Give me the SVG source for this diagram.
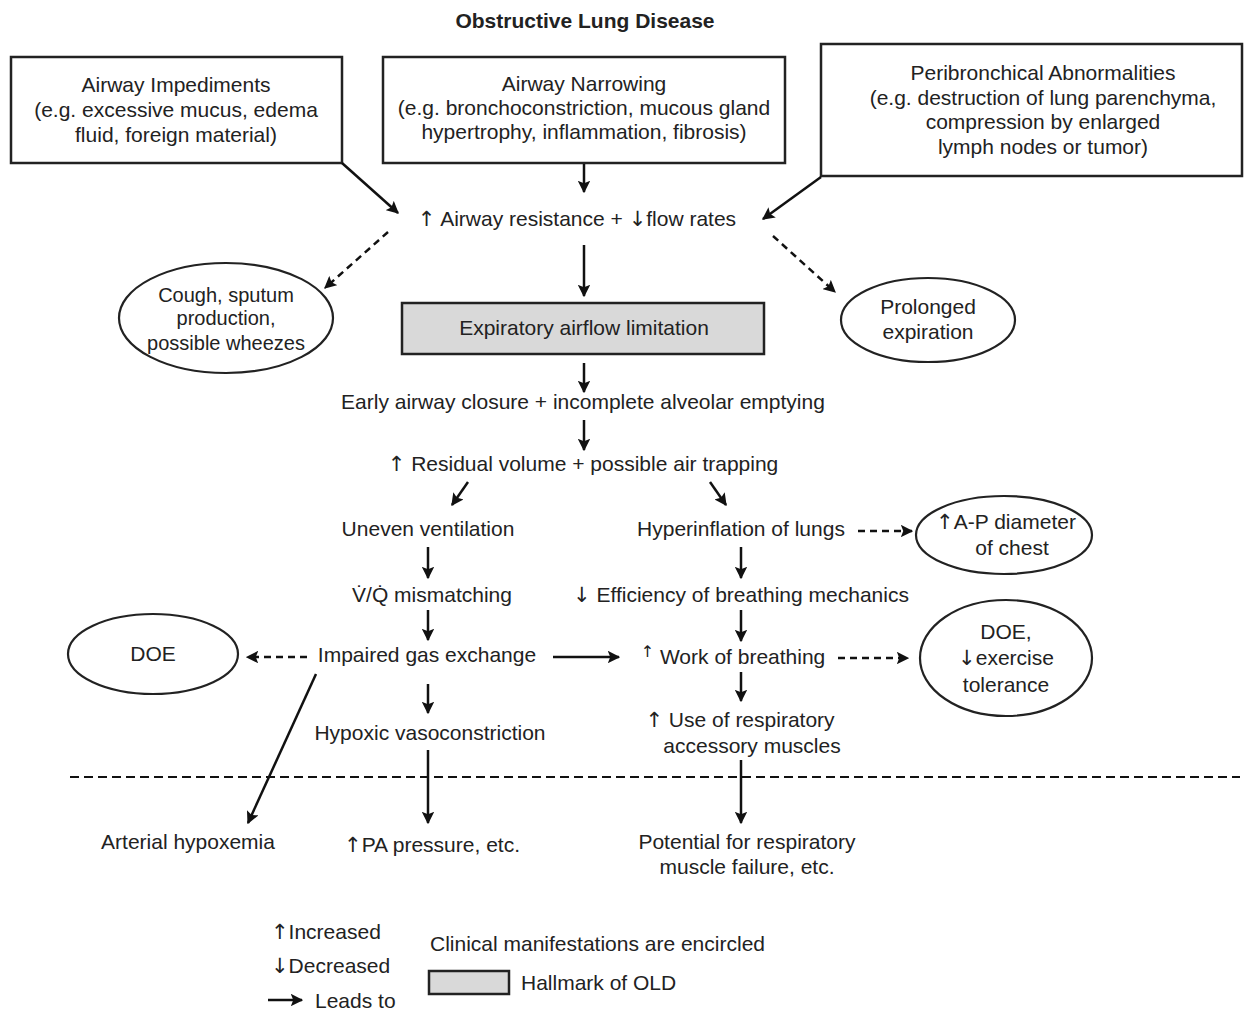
<svg xmlns="http://www.w3.org/2000/svg" width="1249" height="1011" viewBox="0 0 1249 1011">
<defs>
<style>
text{font-family:"Liberation Sans",Arial,sans-serif;font-size:21px;fill:#222;text-anchor:middle}
.title{font-weight:bold;font-size:21px}
.l{text-anchor:start}
.s{font-size:20px}
.ar{font-family:"DejaVu Sans",sans-serif;font-weight:normal}
.box{fill:#fff;stroke:#222;stroke-width:2.5}
.hall{fill:#d9d9d9;stroke:#222;stroke-width:2.5}
.ell{fill:#fff;stroke:#222;stroke-width:2.2}
.c{fill:none;stroke:#111;stroke-width:2.5}
.d{fill:none;stroke:#111;stroke-width:2.5;stroke-dasharray:7 5}
.sep{fill:none;stroke:#111;stroke-width:2;stroke-dasharray:9 5}
</style>
<marker id="ah" viewBox="0 0 10 10" refX="9" refY="5" markerWidth="5" markerHeight="5" orient="auto" markerUnits="strokeWidth">
<path d="M0,0 L10,5 L0,10 L2,5 z" fill="#111"/>
</marker>
</defs>
<rect width="1249" height="1011" fill="#fff"/>
<text class="title" x="585" y="28">Obstructive Lung Disease</text>

<g id="impediments">
<rect class="box" x="11" y="57" width="331" height="106"/>
<text x="176" y="92">Airway Impediments</text>
<text x="176" y="117">(e.g. excessive mucus, edema</text>
<text x="176" y="142">fluid, foreign material)</text>
</g>
<g id="narrowing">
<rect class="box" x="383" y="57" width="402" height="106"/>
<text x="584" y="91">Airway Narrowing</text>
<text x="584" y="115">(e.g. bronchoconstriction, mucous gland</text>
<text x="584" y="139">hypertrophy, inflammation, fibrosis)</text>
</g>
<g id="peribronchial">
<rect class="box" x="821" y="44" width="421" height="132"/>
<text x="1043" y="80">Peribronchical Abnormalities</text>
<text x="1043" y="105">(e.g. destruction of lung parenchyma,</text>
<text x="1043" y="129">compression by enlarged</text>
<text x="1043" y="154">lymph nodes or tumor)</text>
</g>
<g id="resistance"><text x="577" y="226"><tspan class="ar">↑</tspan> Airway resistance + <tspan class="ar">↓</tspan>flow rates</text></g>
<g id="cough">
<ellipse class="ell" cx="226" cy="318" rx="107" ry="55"/>
<text class="s" x="226" y="302">Cough, sputum</text>
<text class="s" x="226" y="325">production,</text>
<text class="s" x="226" y="350">possible wheezes</text>
</g>
<g id="prolonged">
<ellipse class="ell" cx="928" cy="320" rx="87" ry="42"/>
<text x="928" y="314">Prolonged</text>
<text x="928" y="339">expiration</text>
</g>
<g id="limitation">
<rect class="hall" x="402" y="303" width="362" height="51"/>
<text x="584" y="335">Expiratory airflow limitation</text>
</g>
<g id="closure"><text x="583" y="409">Early airway closure + incomplete alveolar emptying</text></g>
<g id="residual"><text x="583" y="471"><tspan class="ar">↑</tspan> Residual volume + possible air trapping</text></g>
<g id="uneven"><text x="428" y="536">Uneven ventilation</text></g>
<g id="hyperinflation"><text x="741" y="536">Hyperinflation of lungs</text></g>
<g id="apdiameter">
<ellipse class="ell" cx="1004" cy="535" rx="88" ry="39"/>
<text x="1006" y="529"><tspan class="ar">↑</tspan>A-P diameter</text>
<text x="1012" y="555">of chest</text>
</g>
<g id="vq"><text x="432" y="602">V̇/Q̇ mismatching</text></g>
<g id="efficiency"><text x="741" y="602"><tspan class="ar">↓</tspan> Efficiency of breathing mechanics</text></g>
<g id="doe1">
<ellipse class="ell" cx="153" cy="654" rx="85" ry="40"/>
<text x="153" y="661">DOE</text>
</g>
<g id="gas"><text x="427" y="662">Impaired gas exchange</text></g>
<g id="work"><text x="733" y="664"><tspan class="ar" font-size="16" dy="-7">↑</tspan><tspan dy="7"> Work of breathing</tspan></text></g>
<g id="doe2">
<ellipse class="ell" cx="1006" cy="658" rx="86" ry="58"/>
<text x="1006" y="639">DOE,</text>
<text x="1006" y="665"><tspan class="ar">↓</tspan>exercise</text>
<text x="1006" y="692">tolerance</text>
</g>
<g id="hypoxic"><text x="430" y="740">Hypoxic vasoconstriction</text></g>
<g id="accessory">
<text x="740" y="727"><tspan class="ar">↑</tspan> Use of respiratory</text>
<text x="752" y="753">accessory muscles</text>
</g>
<g id="hypoxemia"><text x="188" y="849">Arterial hypoxemia</text></g>
<g id="pa"><text x="432" y="852"><tspan class="ar">↑</tspan>PA pressure, etc.</text></g>
<g id="failure">
<text x="747" y="849">Potential for respiratory</text>
<text x="747" y="874">muscle failure, etc.</text>
</g>

<g id="connectors">
<line class="c" x1="584" y1="164" x2="584" y2="192" marker-end="url(#ah)"/>
<line class="c" x1="342" y1="163" x2="398" y2="213" marker-end="url(#ah)"/>
<line class="c" x1="821" y1="177" x2="763" y2="219" marker-end="url(#ah)"/>
<line class="d" x1="388" y1="232" x2="325" y2="288" marker-end="url(#ah)"/>
<line class="d" x1="773" y1="236" x2="835" y2="292" marker-end="url(#ah)"/>
<line class="c" x1="584" y1="245" x2="584" y2="296" marker-end="url(#ah)"/>
<line class="c" x1="584" y1="363" x2="584" y2="392" marker-end="url(#ah)"/>
<line class="c" x1="584" y1="420" x2="584" y2="450" marker-end="url(#ah)"/>
<line class="c" x1="468" y1="482" x2="452" y2="505" marker-end="url(#ah)"/>
<line class="c" x1="710" y1="482" x2="726" y2="505" marker-end="url(#ah)"/>
<line class="d" x1="858" y1="531" x2="912" y2="531" marker-end="url(#ah)"/>
<line class="c" x1="428" y1="547" x2="428" y2="578" marker-end="url(#ah)"/>
<line class="c" x1="741" y1="547" x2="741" y2="578" marker-end="url(#ah)"/>
<line class="c" x1="428" y1="610" x2="428" y2="640" marker-end="url(#ah)"/>
<line class="c" x1="741" y1="610" x2="741" y2="641" marker-end="url(#ah)"/>
<line class="d" x1="307" y1="657" x2="247" y2="657" marker-end="url(#ah)"/>
<line class="c" x1="553" y1="657" x2="619" y2="657" marker-end="url(#ah)"/>
<line class="d" x1="838" y1="658" x2="908" y2="658" marker-end="url(#ah)"/>
<line class="c" x1="428" y1="684" x2="428" y2="713" marker-end="url(#ah)"/>
<line class="c" x1="741" y1="672" x2="741" y2="701" marker-end="url(#ah)"/>
<line class="c" x1="428" y1="750" x2="428" y2="823" marker-end="url(#ah)"/>
<line class="c" x1="741" y1="760" x2="741" y2="823" marker-end="url(#ah)"/>
<line class="c" x1="316" y1="674" x2="248" y2="823" marker-end="url(#ah)"/>
</g>
<line class="sep" x1="70" y1="777" x2="1240" y2="777"/>

<g id="legend">
<text class="l" x="271" y="939"><tspan class="ar">↑</tspan>Increased</text>
<text class="l" x="271" y="973"><tspan class="ar">↓</tspan>Decreased</text>
<line class="c" x1="268" y1="1000" x2="302" y2="1000" marker-end="url(#ah)"/>
<text class="l" x="315" y="1008">Leads to</text>
<text class="l" x="430" y="951">Clinical manifestations are encircled</text>
<rect class="hall" x="429" y="971" width="80" height="23"/>
<text class="l" x="521" y="990">Hallmark of OLD</text>
</g>
</svg>
